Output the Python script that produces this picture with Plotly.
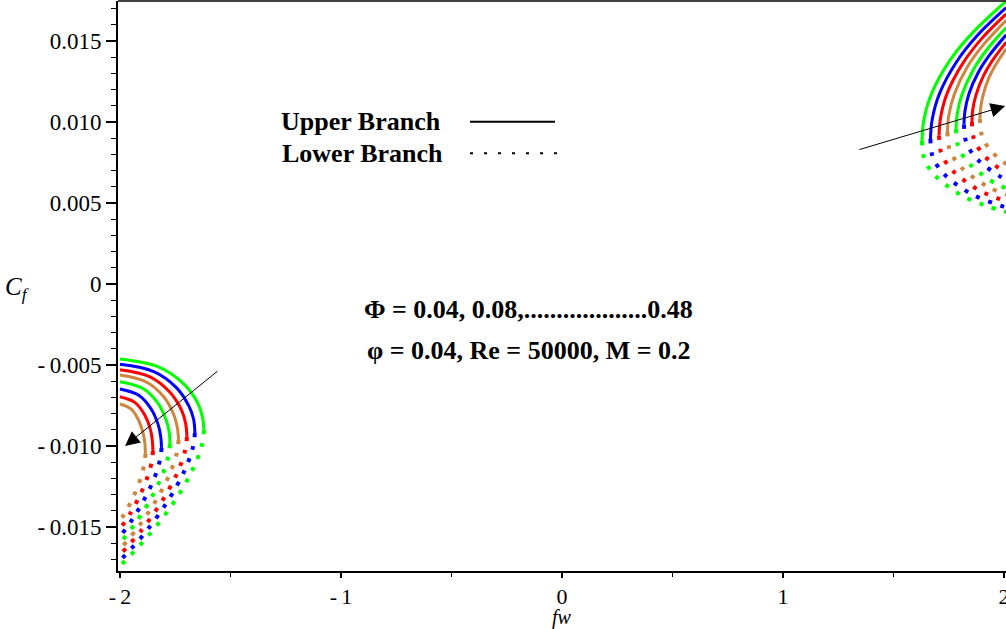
import plotly.graph_objects as go

# Eight curves, colours cycle green / blue / red / brown
curve_colors = ["#00FF00", "#0000FF", "#FF0000", "#CD853F"] * 2

# fw < 0 side, upper branch (solid)
left_upper_fw = [
    [-2.000, -1.829, -1.715, -1.650, -1.628, -1.620],
    [-2.000, -1.847, -1.745, -1.688, -1.667, -1.661],
    [-2.000, -1.864, -1.773, -1.721, -1.703, -1.697],
    [-2.000, -1.881, -1.801, -1.757, -1.741, -1.735],
    [-2.000, -1.898, -1.830, -1.792, -1.778, -1.774],
    [-2.000, -1.915, -1.859, -1.827, -1.816, -1.812],
    [-2.000, -1.933, -1.888, -1.862, -1.854, -1.851],
    [-2.000, -1.948, -1.914, -1.894, -1.887, -1.885],
]
left_upper_cf = [
    [-0.00463, -0.00510, -0.00612, -0.00730, -0.00814, -0.00901],
    [-0.00496, -0.00541, -0.00640, -0.00754, -0.00835, -0.00920],
    [-0.00529, -0.00573, -0.00670, -0.00781, -0.00861, -0.00944],
    [-0.00562, -0.00605, -0.00698, -0.00806, -0.00883, -0.00963],
    [-0.00603, -0.00644, -0.00733, -0.00837, -0.00910, -0.00988],
    [-0.00648, -0.00687, -0.00772, -0.00870, -0.00940, -0.01012],
    [-0.00696, -0.00731, -0.00809, -0.00899, -0.00964, -0.01031],
    [-0.00741, -0.00774, -0.00846, -0.00928, -0.00988, -0.01049],
]

# fw < 0 side, lower branch (dotted)
left_lower_fw = [
    [-1.620, -1.631, -1.677, -1.764, -1.878, -2.000],
    [-1.661, -1.671, -1.712, -1.790, -1.891, -2.000],
    [-1.697, -1.706, -1.742, -1.812, -1.903, -2.000],
    [-1.735, -1.743, -1.775, -1.836, -1.915, -2.000],
    [-1.774, -1.781, -1.808, -1.860, -1.928, -2.000],
    [-1.812, -1.818, -1.840, -1.884, -1.940, -2.000],
    [-1.851, -1.855, -1.873, -1.907, -1.952, -2.000],
    [-1.885, -1.888, -1.902, -1.928, -1.963, -2.000],
]
left_lower_cf = [
    [-0.00901, -0.01002, -0.01162, -0.01363, -0.01564, -0.01741],
    [-0.00920, -0.01014, -0.01164, -0.01353, -0.01543, -0.01708],
    [-0.00944, -0.01032, -0.01170, -0.01345, -0.01520, -0.01673],
    [-0.00963, -0.01044, -0.01172, -0.01334, -0.01496, -0.01638],
    [-0.00988, -0.01061, -0.01178, -0.01325, -0.01472, -0.01601],
    [-0.01012, -0.01078, -0.01182, -0.01314, -0.01445, -0.01560],
    [-0.01031, -0.01089, -0.01181, -0.01297, -0.01413, -0.01514],
    [-0.01049, -0.01099, -0.01178, -0.01278, -0.01378, -0.01465],
]

# fw > 0 side, upper branch (solid), running off the right edge
right_upper_fw = [
    [1.629, 1.637, 1.674, 1.762, 1.867, 2.010],
    [1.667, 1.675, 1.708, 1.787, 1.880, 2.010],
    [1.706, 1.713, 1.742, 1.812, 1.894, 2.010],
    [1.744, 1.750, 1.776, 1.836, 1.908, 2.010],
    [1.783, 1.788, 1.810, 1.861, 1.922, 2.010],
    [1.819, 1.823, 1.841, 1.884, 1.935, 2.010],
    [1.855, 1.858, 1.873, 1.907, 1.948, 2.010],
    [1.891, 1.894, 1.905, 1.930, 1.961, 2.010],
]
right_upper_cf = [
    [0.00883, 0.01010, 0.01181, 0.01394, 0.01564, 0.01747],
    [0.00895, 0.01015, 0.01175, 0.01375, 0.01535, 0.01706],
    [0.00917, 0.01027, 0.01175, 0.01359, 0.01507, 0.01667],
    [0.00938, 0.01040, 0.01175, 0.01344, 0.01479, 0.01628],
    [0.00957, 0.01048, 0.01170, 0.01323, 0.01446, 0.01583],
    [0.00985, 0.01065, 0.01173, 0.01307, 0.01414, 0.01538],
    [0.01000, 0.01071, 0.01166, 0.01285, 0.01380, 0.01493],
    [0.01022, 0.01083, 0.01165, 0.01268, 0.01350, 0.01452],
]

# fw > 0 side, lower branch (dotted), running off the right edge
right_lower_fw = [
    [1.629, 1.638, 1.672, 1.715, 1.812, 1.923, 2.010],
    [1.667, 1.676, 1.710, 1.753, 1.851, 1.962, 2.010],
    [1.706, 1.715, 1.749, 1.792, 1.889, 2.010],
    [1.744, 1.753, 1.787, 1.830, 1.928, 2.010],
    [1.783, 1.792, 1.826, 1.869, 1.966, 2.010],
    [1.819, 1.828, 1.862, 1.905, 2.010],
    [1.855, 1.864, 1.898, 1.941, 2.010],
    [1.891, 1.900, 1.934, 1.977, 2.010],
]
right_lower_cf = [
    [0.00883, 0.00778, 0.00694, 0.00636, 0.00543, 0.00481, 0.00445],
    [0.00895, 0.00790, 0.00707, 0.00648, 0.00556, 0.00494, 0.00472],
    [0.00917, 0.00812, 0.00728, 0.00670, 0.00577, 0.00510],
    [0.00938, 0.00833, 0.00750, 0.00691, 0.00599, 0.00552],
    [0.00957, 0.00852, 0.00769, 0.00710, 0.00617, 0.00592],
    [0.00985, 0.00880, 0.00796, 0.00738, 0.00639],
    [0.01000, 0.00895, 0.00812, 0.00753, 0.00683],
    [0.01022, 0.00917, 0.00833, 0.00775, 0.00740],
]

x_tick_vals = [-2, -1, 0, 1, 2]
x_tick_text = ["-\u20092", "-\u20091", "0", "1", "2"]
x_minor_vals = [-1.5, -0.5, 0.5, 1.5]
y_tick_vals = [-0.015, -0.010, -0.005, 0, 0.005, 0.010, 0.015]
y_tick_text = ["-\u20090.015", "-\u20090.010", "-\u20090.005", "0",
               "0.005", "0.010", "0.015"]
y_minor_vals = [k / 1000 for k in range(-17, 18) if k % 5 != 0]

SERIF = "Liberation Serif"
TICK_SIZE = 23
NOTE_SIZE = 26
SOLID_W = 3
DOT_STYLE = dict(width=4, dash="4px,9px")

fig = go.Figure()


def add_family(xs, ys, line_extra):
    for i, (xv, yv) in enumerate(zip(xs, ys)):
        fig.add_trace(go.Scatter(
            x=xv, y=yv, mode="lines",
            line=dict(color=curve_colors[i], shape="spline", **line_extra),
            hoverinfo="skip",
        ))


add_family(left_upper_fw, left_upper_cf, dict(width=SOLID_W))
add_family(left_lower_fw, left_lower_cf, DOT_STYLE)
add_family(right_upper_fw, right_upper_cf, dict(width=SOLID_W))
add_family(right_lower_fw, right_lower_cf, DOT_STYLE)

fig.update_layout(
    width=1006, height=629,
    margin=dict(l=118, r=0, t=1, b=58),
    plot_bgcolor="white", paper_bgcolor="white",
    showlegend=False,
    font=dict(family=SERIF, size=TICK_SIZE, color="black"),
)

fig.update_xaxes(
    range=[-2.009, 2.009], automargin=False,
    tickmode="array", tickvals=x_tick_vals, ticktext=x_tick_text,
    ticks="outside", ticklen=5, tickwidth=1.5, tickcolor="black",
    minor=dict(tickmode="array", tickvals=x_minor_vals, ticks="outside",
               ticklen=4, tickwidth=1.2, tickcolor="black"),
    showline=True, linewidth=2, linecolor="black",
    showgrid=False, zeroline=False, ticklabeloverflow="allow",
    tickfont=dict(family=SERIF, size=22),
)
fig.update_yaxes(
    range=[-0.01772, 0.01747], automargin=False,
    tickmode="array", tickvals=y_tick_vals, ticktext=y_tick_text,
    ticks="outside", ticklen=10, tickwidth=1.5, tickcolor="black",
    minor=dict(tickmode="array", tickvals=y_minor_vals, ticks="outside",
               ticklen=5, tickwidth=1.2, tickcolor="black"),
    showline=True, linewidth=2, linecolor="black",
    showgrid=False, zeroline=False,
    tickfont=dict(family=SERIF, size=TICK_SIZE),
)

# top frame line
fig.add_shape(type="line", xref="paper", yref="paper", x0=0, x1=1, y0=1, y1=1,
              line=dict(color="black", width=1.5))

# branch key
fig.add_annotation(x=0.2736, y=0.789, xref="paper", yref="paper",
                   text="<b>Upper Branch</b>", showarrow=False,
                   xanchor="center", yanchor="middle",
                   font=dict(family=SERIF, size=NOTE_SIZE, color="black"))
fig.add_annotation(x=0.2748, y=0.7333, xref="paper", yref="paper",
                   text="<b>Lower Branch</b>", showarrow=False,
                   xanchor="center", yanchor="middle",
                   font=dict(family=SERIF, size=NOTE_SIZE, color="black"))
fig.add_shape(type="line", xref="paper", yref="paper",
              x0=0.3964, x1=0.4921, y0=0.7882, y1=0.7882,
              line=dict(color="black", width=2))
fig.add_shape(type="line", xref="paper", yref="paper",
              x0=0.3964, x1=0.4944, y0=0.7328, y1=0.7328,
              line=dict(color="black", width=2, dash="3px,11px"))

# parameter text
fig.add_annotation(x=0.4628, y=0.4579, xref="paper", yref="paper",
                   text="<b>\u03A6 = 0.04, 0.08,...................0.48</b>",
                   showarrow=False, xanchor="center", yanchor="middle",
                   font=dict(family=SERIF, size=NOTE_SIZE, color="black"))
fig.add_annotation(x=0.4628, y=0.3877, xref="paper", yref="paper",
                   text="<b>\u03C6 = 0.04, Re = 50000, M = 0.2</b>",
                   showarrow=False, xanchor="center", yanchor="middle",
                   font=dict(family=SERIF, size=NOTE_SIZE, color="black"))

# arrows showing increasing Phi
fig.add_annotation(x=-1.977, y=-0.0100, ax=-1.552, ay=-0.00531,
                   xref="x", yref="y", axref="x", ayref="y",
                   text="", showarrow=True, arrowhead=2, arrowsize=2.9,
                   arrowwidth=1, arrowcolor="black", standoff=0)
fig.add_annotation(x=2.005, y=0.01099, ax=1.339, ay=0.00827,
                   xref="x", yref="y", axref="x", ayref="y",
                   text="", showarrow=True, arrowhead=2, arrowsize=2.9,
                   arrowwidth=1, arrowcolor="black", standoff=0)

# axis titles
fig.add_annotation(x=-0.1295, y=0.495, xref="paper", yref="paper",
                   text="<i>C</i><sub><i>f</i></sub>", showarrow=False,
                   xanchor="left", yanchor="middle",
                   font=dict(family=SERIF, size=25, color="black"))
fig.add_annotation(x=0.5, y=-0.104, xref="paper", yref="paper",
                   text="<i>fw</i>", showarrow=False,
                   xanchor="center", yanchor="bottom", borderpad=0,
                   font=dict(family=SERIF, size=20, color="black"))

fig.write_html("out.html", config={"displayModeBar": False})
